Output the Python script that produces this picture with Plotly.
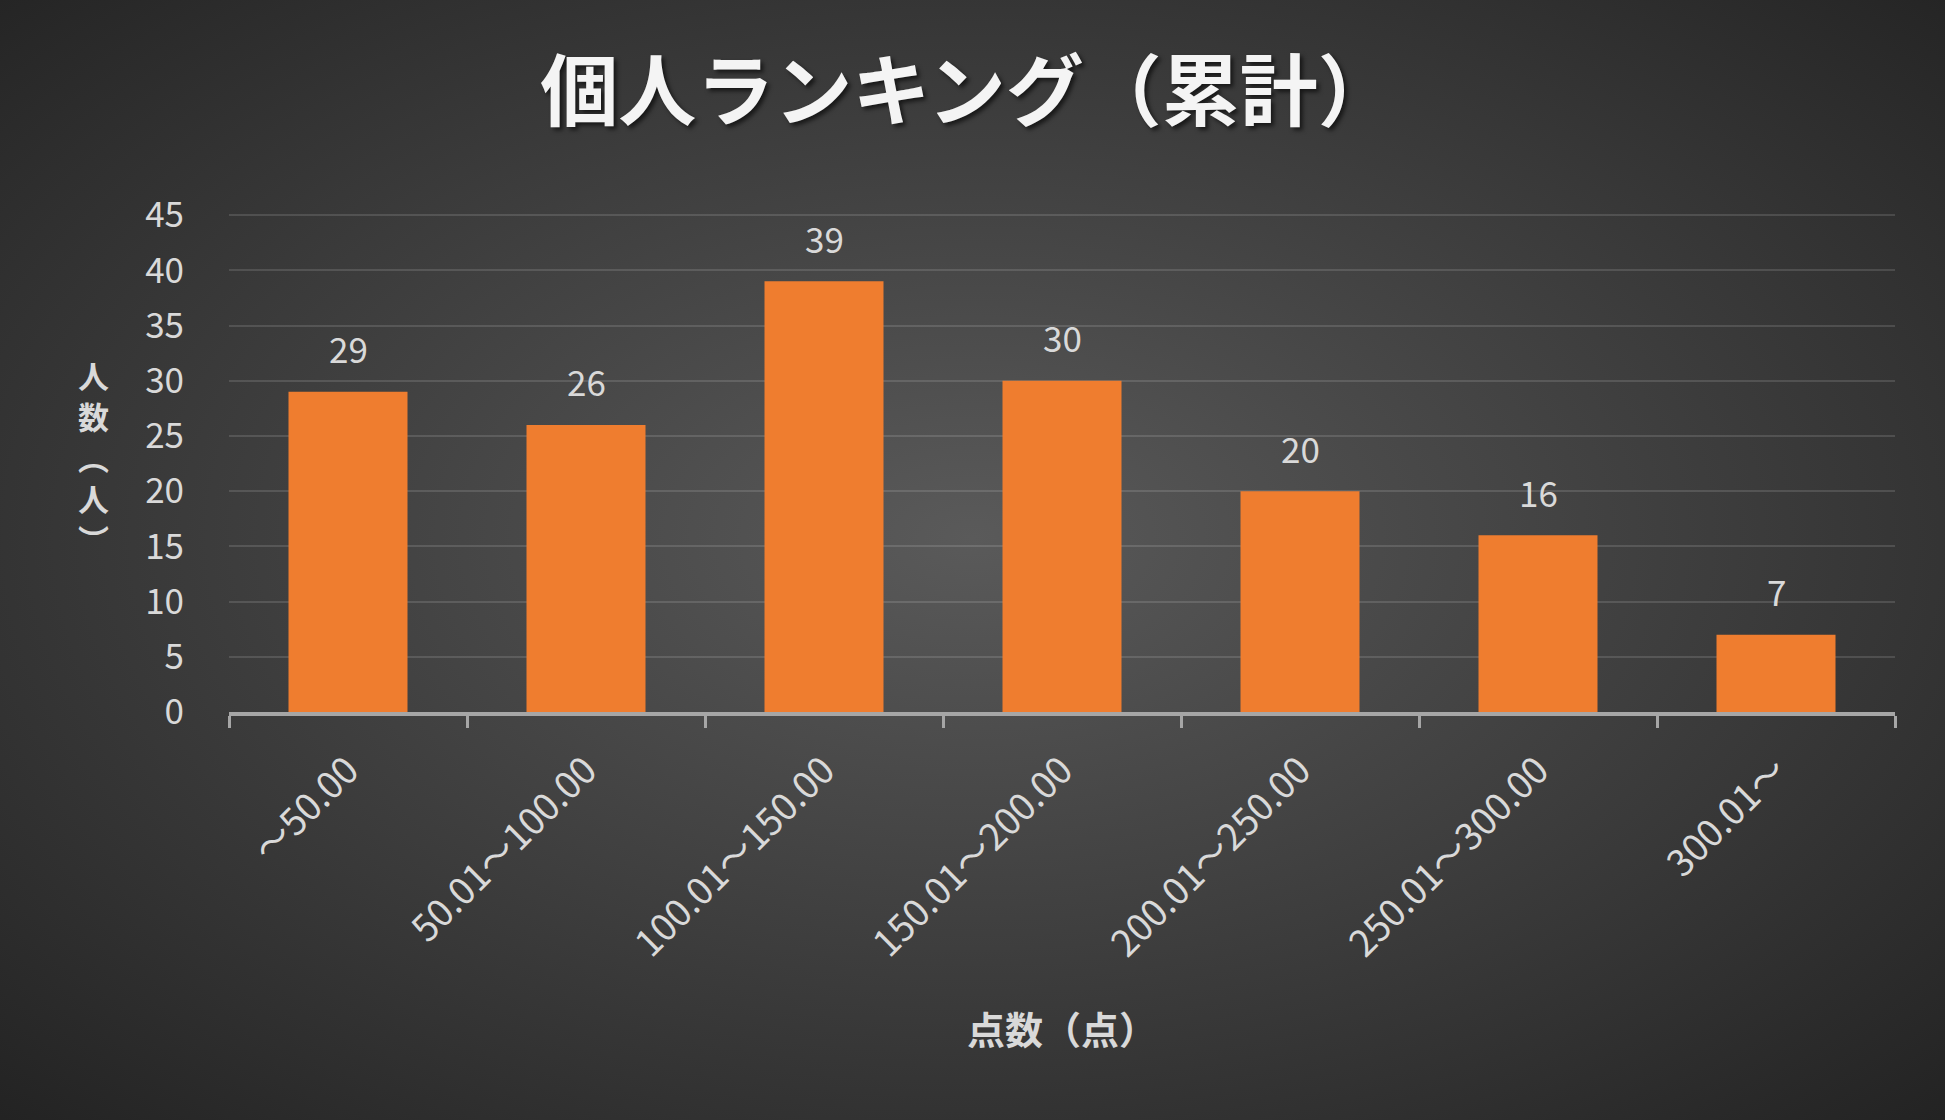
import base64
import plotly.graph_objects as go

# data
categories = ['～50.00', '50.01～100.00', '100.01～150.00', '150.01～200.00',
              '200.01～250.00', '250.01～300.00', '300.01～']
counts = [29, 26, 39, 30, 20, 16, 7]
y_ticks = [0, 5, 10, 15, 20, 25, 30, 35, 40, 45]
y_title_chars = ['人', '数', '︵', '人', '︶']

W, H = 1945, 1120
L, R, T, B = 229, 50, 214, 408
pw, ph = W - L - R, H - T - B

FONT = 'Noto Sans CJK JP'
TXT = '#D9D9D9'

# dark radial background as an svg picture behind everything
svg = ("<svg xmlns='http://www.w3.org/2000/svg' width='%d' height='%d'>"
       "<defs><radialGradient id='g' cx='50%%' cy='48%%' r='72%%'>"
       "<stop offset='0' stop-color='#5a5a5a'/><stop offset='1' stop-color='#232323'/>"
       "</radialGradient></defs><rect width='100%%' height='100%%' fill='url(#g)'/></svg>") % (W, H)
bg = 'data:image/svg+xml;base64,' + base64.b64encode(svg.encode()).decode()

fig = go.Figure(go.Bar(x=categories, y=counts, marker=dict(color='#EF7D2F', line=dict(width=0))))

# value labels above the bars
for c, v in zip(categories, counts):
    fig.add_annotation(x=c, y=v, text=str(v), showarrow=False, yanchor='middle', yshift=44,
                       font=dict(family=FONT, size=35, color=TXT))

# vertical y title, one character per row
for i, ch in enumerate(y_title_chars):
    fig.add_annotation(xref='paper', yref='paper', x=(93 - L) / pw, y=(712 - 374 - 41 * i) / ph,
                       xanchor='center', yanchor='middle', text=ch, showarrow=False, borderpad=0,
                       font=dict(family=FONT, size=31, color=TXT, weight='bold'))
# x title
fig.add_annotation(xref='paper', yref='paper', x=(1062 - L) / pw, y=(712 - 1027) / ph,
                   xanchor='center', yanchor='middle', text='点数（点）', showarrow=False,
                   font=dict(family=FONT, size=38, color=TXT, weight='bold'))

fig.update_layout(
    width=W, height=H,
    margin=dict(l=L, r=R, t=T, b=B),
    paper_bgcolor='#3a3a3a', plot_bgcolor='rgba(0,0,0,0)',
    bargap=0.5, showlegend=False,
    title=dict(text='個人ランキング（累計）', x=968 / W, xanchor='center', y=1 - 93 / H, yanchor='middle',
               font=dict(family=FONT, size=78, color='#F4F4F4', weight='bold',
                         shadow='3px 3px 4px rgba(0,0,0,0.6)')),
    images=[dict(source=bg, xref='paper', yref='paper', x=-L / pw, y=1 + T / ph,
                 sizex=W / pw, sizey=H / ph, sizing='stretch', layer='below')],
)
fig.update_xaxes(showgrid=False, showline=True, linecolor='#A6A6A6', linewidth=4,
                 ticks='outside', tickson='boundaries', ticklen=12, tickwidth=3, tickcolor='#A6A6A6',
                 tickangle=-45, ticklabelstandoff=18, tickfont=dict(family=FONT, size=37, color=TXT))
fig.update_yaxes(range=[0, 45.1], tickvals=y_ticks, showgrid=True, gridcolor='rgba(255,255,255,0.13)',
                 gridwidth=2, zeroline=False, showline=False, ticklabelstandoff=44,
                 tickfont=dict(family=FONT, size=35, color=TXT))

fig.write_html('out.html', config={'displayModeBar': False},
               post_script="document.body.style.margin='0';")
